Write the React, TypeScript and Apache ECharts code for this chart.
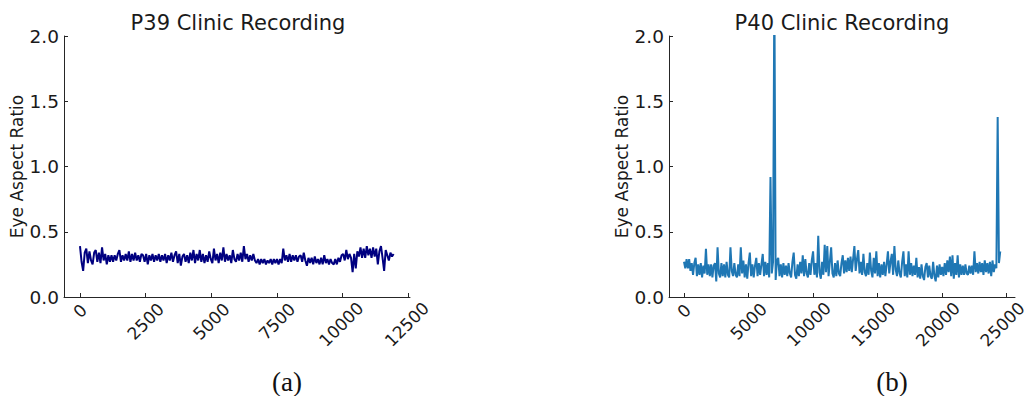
import React, { useEffect, useRef } from "react";
import * as echarts from "echarts";

const TITLES = ["P39 Clinic Recording", "P40 Clinic Recording"];
const CAPTIONS = ["(a)", "(b)"];
const Y_NAME = "Eye Aspect Ratio";
const Y_TICKS = [0, 0.5, 1.0, 1.5, 2.0];
const P39_X_TICKS = [0, 2500, 5000, 7500, 10000, 12500];
const P40_X_TICKS = [0, 5000, 10000, 15000, 20000, 25000];
const P39_FRAME_STEP = 60;
const P40_FRAME_STEP = 100;

const P39_EAR = [
  0.39, 0.27, 0.20, 0.34, 0.37, 0.26, 0.35, 0.28, 0.25, 0.34, 0.36, 0.27, 0.34, 0.26, 0.38, 0.28, 0.33, 0.25, 0.32, 0.27,
  0.32, 0.27, 0.32, 0.28, 0.33, 0.36, 0.27, 0.32, 0.28, 0.33, 0.28, 0.35, 0.27, 0.33, 0.28, 0.34, 0.28, 0.32, 0.27, 0.33,
  0.32, 0.27, 0.33, 0.25, 0.32, 0.28, 0.33, 0.27, 0.32, 0.28, 0.33, 0.27, 0.32, 0.28, 0.33, 0.26, 0.32, 0.28, 0.34, 0.27,
  0.32, 0.35, 0.26, 0.33, 0.24, 0.31, 0.33, 0.27, 0.32, 0.26, 0.34, 0.28, 0.36, 0.26, 0.33, 0.28, 0.36, 0.27, 0.33, 0.26,
  0.32, 0.27, 0.35, 0.29, 0.26, 0.37, 0.28, 0.33, 0.26, 0.34, 0.28, 0.38, 0.27, 0.33, 0.28, 0.32, 0.26, 0.36, 0.29, 0.27,
  0.33, 0.28, 0.34, 0.27, 0.39, 0.29, 0.33, 0.27, 0.32, 0.28, 0.33, 0.28, 0.26, 0.29, 0.25, 0.29, 0.26, 0.29, 0.25, 0.28,
  0.26, 0.29, 0.25, 0.29, 0.26, 0.29, 0.25, 0.29, 0.26, 0.37, 0.28, 0.32, 0.27, 0.33, 0.27, 0.32, 0.28, 0.32, 0.27, 0.31,
  0.32, 0.27, 0.34, 0.28, 0.24, 0.30, 0.26, 0.30, 0.25, 0.31, 0.26, 0.29, 0.25, 0.30, 0.25, 0.32, 0.26, 0.29, 0.25, 0.29,
  0.26, 0.25, 0.29, 0.25, 0.30, 0.27, 0.32, 0.33, 0.28, 0.36, 0.29, 0.33, 0.30, 0.19, 0.33, 0.22, 0.35, 0.31, 0.38, 0.30,
  0.37, 0.30, 0.39, 0.32, 0.37, 0.30, 0.38, 0.31, 0.37, 0.25, 0.35, 0.39, 0.30, 0.20, 0.36, 0.32, 0.28, 0.34, 0.31, 0.33,
];

const P40_EAR = [
  0.27, 0.22, 0.29, 0.22, 0.29, 0.20, 0.26, 0.17, 0.26, 0.30, 0.16, 0.25, 0.17, 0.26, 0.15, 0.24, 0.18, 0.37, 0.17, 0.25,
  0.16, 0.25, 0.15, 0.24, 0.26, 0.12, 0.38, 0.18, 0.15, 0.26, 0.16, 0.25, 0.15, 0.27, 0.17, 0.15, 0.38, 0.20, 0.16, 0.26,
  0.17, 0.15, 0.25, 0.16, 0.38, 0.18, 0.28, 0.15, 0.25, 0.14, 0.26, 0.34, 0.16, 0.25, 0.15, 0.24, 0.30, 0.16, 0.26, 0.17,
  0.25, 0.33, 0.16, 0.27, 0.17, 0.26, 0.15, 0.92, 0.18, 0.27, 2.40, 0.13, 0.28, 0.30, 0.16, 0.25, 0.15, 0.26, 0.17, 0.24,
  0.16, 0.26, 0.18, 0.15, 0.27, 0.34, 0.17, 0.14, 0.25, 0.16, 0.27, 0.18, 0.32, 0.16, 0.29, 0.18, 0.15, 0.26, 0.17, 0.28,
  0.35, 0.17, 0.26, 0.15, 0.47, 0.19, 0.14, 0.27, 0.17, 0.40, 0.19, 0.39, 0.16, 0.27, 0.38, 0.18, 0.15, 0.26, 0.16, 0.28,
  0.18, 0.16, 0.26, 0.32, 0.18, 0.28, 0.19, 0.30, 0.20, 0.31, 0.19, 0.29, 0.39, 0.20, 0.29, 0.36, 0.18, 0.27, 0.17, 0.33,
  0.19, 0.16, 0.26, 0.17, 0.34, 0.20, 0.15, 0.30, 0.18, 0.35, 0.16, 0.26, 0.15, 0.25, 0.17, 0.27, 0.16, 0.25, 0.35, 0.18,
  0.27, 0.33, 0.17, 0.39, 0.21, 0.16, 0.28, 0.18, 0.15, 0.27, 0.35, 0.16, 0.25, 0.15, 0.35, 0.17, 0.26, 0.16, 0.24, 0.17,
  0.30, 0.15, 0.23, 0.14, 0.25, 0.16, 0.13, 0.23, 0.26, 0.15, 0.24, 0.16, 0.14, 0.27, 0.16, 0.12, 0.24, 0.15, 0.25, 0.17,
  0.23, 0.16, 0.26, 0.17, 0.28, 0.19, 0.31, 0.16, 0.32, 0.14, 0.26, 0.17, 0.32, 0.15, 0.25, 0.17, 0.24, 0.17, 0.25, 0.18,
  0.17, 0.24, 0.18, 0.24, 0.17, 0.35, 0.19, 0.26, 0.18, 0.27, 0.19, 0.26, 0.17, 0.28, 0.19, 0.26, 0.18, 0.27, 0.16, 0.28,
  0.19, 0.25, 0.22, 1.38, 0.26, 0.35,
];

const FONT = "DejaVu Sans";
const TEXT = "#1a1a1a";
const AXIS = "#262626";

// padding [p, p + k, k, 0] puts the rotated text centre 0.707p below the anchor and 0.707k to its left
const richFor = (p: number, k: number) => ({
  fontSize: 17,
  fontFamily: FONT,
  color: TEXT,
  padding: [p, p + k, k, 0],
});

function xAxisCfg(gridIndex: number, min: number, max: number, ticks: number[], k5: number) {
  return {
    type: "value",
    gridIndex,
    min,
    max,
    axisLine: { show: true, onZero: false, lineStyle: { color: AXIS, width: 1 } },
    axisTick: { show: true, inside: true, length: 4, customValues: ticks, lineStyle: { color: AXIS } },
    splitLine: { show: false },
    axisLabel: {
      show: true,
      customValues: ticks,
      rotate: 45,
      align: "center",
      verticalAlign: "middle",
      margin: 4,
      interval: 0,
      hideOverlap: false,
      formatter: (v: number) => `{l${String(v).length}|${v}}`,
      rich: { l1: richFor(14, 0), l4: richFor(29, 0), l5: richFor(33, k5) },
    },
  };
}

function yAxisCfg(gridIndex: number) {
  return {
    type: "value",
    gridIndex,
    min: 0,
    max: 2,
    name: Y_NAME,
    nameLocation: "middle",
    nameRotate: 90,
    nameGap: 36,
    nameTextStyle: { fontSize: 17, fontFamily: FONT, color: TEXT },
    axisLine: { show: true, onZero: false, lineStyle: { color: AXIS, width: 1 } },
    axisTick: { show: true, inside: true, length: 4, customValues: Y_TICKS, lineStyle: { color: AXIS } },
    splitLine: { show: false },
    axisLabel: {
      show: true,
      customValues: Y_TICKS,
      margin: 5,
      fontSize: 18.5,
      fontFamily: FONT,
      color: TEXT,
      formatter: (v: number) => v.toFixed(1),
    },
  };
}

export default function App() {
  const ref = useRef<HTMLDivElement>(null);
  useEffect(() => {
    if (!ref.current) return;
    const chart = echarts.init(ref.current, undefined, { renderer: "svg" });
    const titleStyle = { fontSize: 21, fontWeight: "normal", fontFamily: FONT, color: TEXT };
    const option: any = {
      animation: false,
      backgroundColor: "#ffffff",
      title: [
        { text: TITLES[0], left: 238, top: 12, textAlign: "center", padding: 0, textStyle: titleStyle },
        { text: TITLES[1], left: 842, top: 12, textAlign: "center", padding: 0, textStyle: titleStyle },
      ],
      grid: [
        { left: 64, top: 36, width: 346, height: 261, containLabel: false, outerBoundsMode: "none" },
        { left: 669, top: 36, width: 346, height: 261, containLabel: false, outerBoundsMode: "none" },
      ],
      xAxis: [xAxisCfg(0, -609, 12565, P39_X_TICKS, 2), xAxisCfg(1, -1162, 25643, P40_X_TICKS, 6)],
      yAxis: [yAxisCfg(0), yAxisCfg(1)],
      series: [
        {
          type: "line",
          xAxisIndex: 0,
          yAxisIndex: 0,
          data: P39_EAR.map((v, i) => [i * P39_FRAME_STEP, v]),
          showSymbol: false,
          symbol: "none",
          clip: true,
          lineStyle: { color: "#000080", width: 2 },
        },
        {
          type: "line",
          xAxisIndex: 1,
          yAxisIndex: 1,
          data: P40_EAR.map((v, i) => [i * P40_FRAME_STEP, v]),
          showSymbol: false,
          symbol: "none",
          clip: true,
          lineStyle: { color: "#1f77b4", width: 2 },
        },
      ],
      graphic: [
        {
          type: "text",
          x: 287,
          y: 382,
          style: {
            text: CAPTIONS[0],
            fontSize: 27,
            fontFamily: "Liberation Serif",
            fill: "#111",
            align: "center",
            verticalAlign: "middle",
          },
        },
        {
          type: "text",
          x: 892,
          y: 382,
          style: {
            text: CAPTIONS[1],
            fontSize: 27,
            fontFamily: "Liberation Serif",
            fill: "#111",
            align: "center",
            verticalAlign: "middle",
          },
        },
      ],
    };
    chart.setOption(option);
    return () => chart.dispose();
  }, []);
  return (
    <div
      ref={ref}
      style={{ position: "fixed", left: 0, top: 0, width: 1029, height: 396, background: "#fff" }}
    />
  );
}
